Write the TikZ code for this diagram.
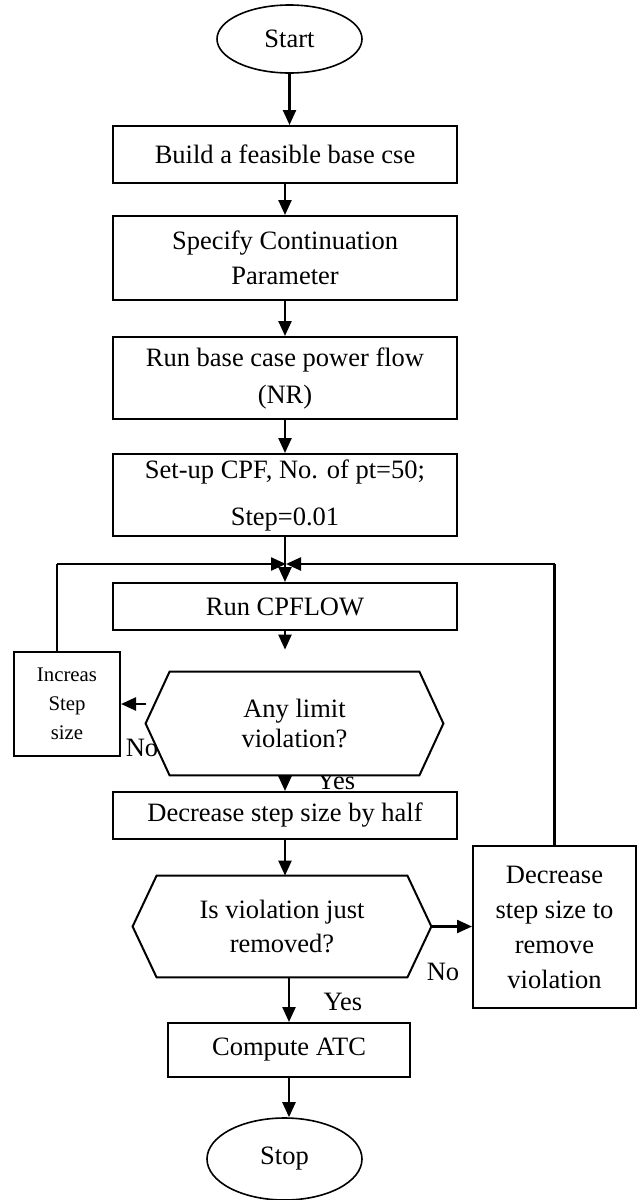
\documentclass[tikz,border=0pt]{standalone}
\usepackage{fontspec}
\setmainfont{Liberation Serif}
\usetikzlibrary{arrows.meta,shapes.geometric}

\begin{document}
\begin{tikzpicture}[x=0.5pt,y=-0.5pt,
  txt/.style={font=\fontsize{13.25}{17.5}\selectfont},
  box/.style={txt,draw,line width=1pt,rectangle,inner sep=0pt,align=center,fill=white},
  term/.style={txt,draw,line width=0.8pt,ellipse,inner sep=0pt},
  flow/.style={line width=1.2pt,-{Triangle[length=7.5pt,width=6.5pt]}},
  link/.style={line width=1.2pt},
  lbl/.style={txt,inner sep=0pt},
  hexframe/.style={rectangle,inner sep=0pt},
  hexshape/.style={draw,line width=1pt,fill=white}]

\useasboundingbox (0,0) rectangle (637,1200);

% branch labels (partly covered by the shapes drawn afterwards)
\node[lbl] (no1)  at (142,748)  {No};
\node[lbl] (yes1) at (336,781)  {Yes};
\node[lbl] (no2)  at (443,972)  {No};
\node[lbl] (yes2) at (343,1002) {Yes};

% terminals and process boxes
\node[term,minimum width=72.5pt,minimum height=34pt] (start) at (289.5,39) {Start};
\node[box,minimum width=172pt,minimum height=28.5pt] (build) at (285,154.5) {Build a feasible base cse};
\node[box,minimum width=172pt,minimum height=42pt] (spec) at (285,258) {Specify Continuation\\Parameter};
\node[box,minimum width=172pt,minimum height=41pt,font=\fontsize{13.25}{18.5}\selectfont] (runbase) at (285,378) {Run base case power flow\\(NR)};
\node[box,minimum width=172pt,minimum height=41pt,font=\fontsize{13.25}{23.5}\selectfont] (setup) at (285,495) {Set-up CPF, No. of pt=50;\\Step=0.01};
\node[box,minimum width=172pt,minimum height=23.5pt] (runcpf) at (285,606.5) {Run CPFLOW};

% first decision
\node[hexframe,minimum width=148.5pt,minimum height=51.5pt] (hex1) at (294.5,723.5) {};
\draw[hexshape] (hex1.west) -- ([xshift=12pt]hex1.north west) -- ([xshift=-12pt]hex1.north east)
  -- (hex1.east) -- ([xshift=-12pt]hex1.south east) -- ([xshift=12pt]hex1.south west) -- cycle;
\node[lbl,align=center,font=\fontsize{13.25}{15}\selectfont] (hex1text) at (hex1) {Any limit\\violation?};

\node[box,minimum width=53pt,minimum height=52pt,font=\fontsize{10.4}{14.5}\selectfont] (incr) at (67,704) {Increas\\Step\\size};

\node[box,minimum width=172pt,minimum height=23.5pt] (half) at (285,815.5) {Decrease step size by half};

% second decision
\node[hexframe,minimum width=149pt,minimum height=50.5pt] (hex2) at (282,926.5) {};
\draw[hexshape] (hex2.west) -- ([xshift=12pt]hex2.north west) -- ([xshift=-12pt]hex2.north east)
  -- (hex2.east) -- ([xshift=-12pt]hex2.south east) -- ([xshift=12pt]hex2.south west) -- cycle;
\node[lbl,align=center,font=\fontsize{13.25}{17}\selectfont] (hex2text) at (hex2) {Is violation just\\removed?};

\node[box,minimum width=81.5pt,minimum height=81pt] (decv) at (554.5,927) {Decrease\\step size to\\remove\\violation};

\node[box,minimum width=121pt,minimum height=27pt] (atc) at (289,1050) {Compute ATC};
\node[term,minimum width=77.5pt,minimum height=41pt] (stop) at (284.5,1159) {Stop};

% loop junction above Run CPFLOW
\coordinate (join) at (286,564);
\coordinate (loopL) at (57,564);

% main flow
\draw[flow] (start.south) -- (start.south |- build.north);
\draw[flow] (build.south) -- (spec.north);
\draw[flow] (spec.south) -- (runbase.north);
\draw[flow] (runbase.south) -- (setup.north);
\draw[flow] (setup.south) -- (runcpf.north);
\draw[flow,shorten >=11pt] (runcpf.south) -- (runcpf.south |- hex1.north);
\draw[flow] (half.north |- hex1.south) -- (half.north);
\draw[flow] (hex1.west |- incr.east) -- (incr.east);
\draw[flow] (half.south) -- (half.south |- hex2.north);
\draw[flow] (hex2.east) -- (hex2.east -| decv.west);
\draw[flow] (atc.north |- hex2.south) -- (atc.north);
\draw[flow] (atc.south) -- (atc.south |- stop.north);

% feedback loops into the junction
\draw[link] (incr.north -| loopL) -- (loopL);
\draw[flow] (loopL) -- (join);
\draw[link] (decv.north) -- (decv.north |- join);
\draw[flow] (decv.north |- join) -- (join);
\end{tikzpicture}
\end{document}
